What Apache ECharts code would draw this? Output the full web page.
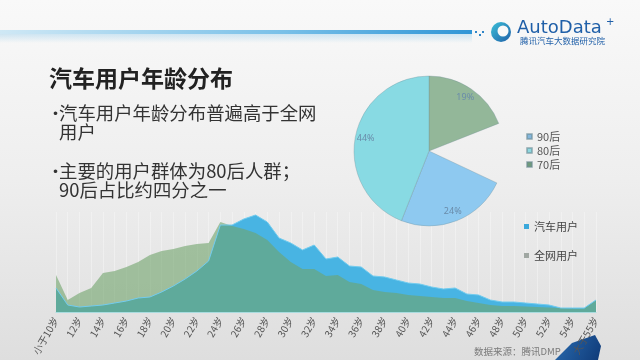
<!DOCTYPE html>
<html><head><meta charset="utf-8">
<script src="https://cdn.jsdelivr.net/npm/echarts@6/dist/echarts.min.js"></script>
<style>html,body{margin:0;padding:0;}#c{width:640px;height:360px;}</style>
</head><body><div id="c"></div>
<script>
const ageCategories = ['小于10岁','11岁','12岁','13岁','14岁','15岁','16岁','17岁','18岁','19岁','20岁','21岁','22岁','23岁','24岁','25岁','26岁','27岁','28岁','29岁','30岁','31岁','32岁','33岁','34岁','35岁','36岁','37岁','38岁','39岁','40岁','41岁','42岁','43岁','44岁','45岁','46岁','47岁','48岁','49岁','50岁','51岁','52岁','53岁','54岁','55岁','大于55岁'];
const carUsers = [24,7,5,6,7,9,11,14,15,20,26,33,41,51,87,87,93,97,90,74,69,62,67,53,55,46,45,36,35,32,29,28,25,23,24,18,17,12,10,10,9,8,7,4,4,4,12];
const allUsers = [37,12,19,24,39,41,45,50,57,61,63,66,68,69,90,86,83,79,72,60,50,43,43,36,37,30,28,22,20,19,17,16,15,14,14,11,9,7,6,6,5.5,5,4.5,4,3.5,3.5,12];
const pieNames = ['70后','其他','90后','80后'];
const pieValues = [19,13,24,44];
const pieLegendNames = ['90后','80后','70后'];
const seriesNames = ['汽车用户','全网用户'];

const pieColors = {'70后':'#93b799','其他':'rgba(0,0,0,0)','90后':'#8ec9f0','80后':'#88dae3'};
const pieLegendColors = {'90后':'#84b6dc','80后':'#8fd8e0','70后':'#6f9a7a'};
const cjk = '"Noto Sans CJK SC", "Noto Sans", sans-serif';

const chart = echarts.init(document.getElementById('c'));
const option = {
  backgroundColor: {type:'linear', x:0, y:0, x2:0, y2:1, colorStops:[{offset:0,color:'#f9f9f9'},{offset:0.5,color:'#eeeeee'},{offset:1,color:'#dedede'}]},
  textStyle: {fontFamily: cjk},
  animation: false,
  grid: {left:56, right:44, top:212, bottom:48},
  xAxis: {
    type:'category', data: ageCategories, boundaryGap:false, z:3,
    axisLine:{lineStyle:{color:'#a9dcdf', width:1}},
    axisTick:{show:false},
    axisLabel:{interval:1, rotate:60, fontSize:10, color:'#555', margin:6},
    splitLine:{show:true, interval:0, lineStyle:{color:'rgba(255,255,255,0.33)', width:1}}
  },
  yAxis: {type:'value', min:0, max:100, show:false},
  legend: [
    {orient:'vertical', left:521, top:126, itemWidth:5, itemHeight:5, itemGap:3, icon:'rect', selectedMode:false,
     textStyle:{fontSize:11, color:'#555', fontFamily:cjk},
     data: pieLegendNames.map(n => ({name:n, itemStyle:{color:pieLegendColors[n]}}))},
    {orient:'vertical', left:519, top:216, itemWidth:5, itemHeight:5, itemGap:18, icon:'rect', selectedMode:false,
     textStyle:{fontSize:11, color:'#444', fontFamily:cjk},
     data: [{name:seriesNames[0], itemStyle:{color:'#3aa8db'}},{name:seriesNames[1], itemStyle:{color:'#a0a7a2'}}]}
  ],
  series: [
    {name:seriesNames[0], type:'line', data:carUsers, symbol:'none', silent:true,
     lineStyle:{width:1, color:'#72ccef'}, areaStyle:{color:'#48b4e3', opacity:1}},
    {name:seriesNames[1], type:'line', data:allUsers, symbol:'none', silent:true,
     lineStyle:{width:0}, areaStyle:{color:'#6fa46a', opacity:0.6}},
    {name:'年龄', type:'pie', center:[429,151], radius:75, startAngle:90, clockwise:true, z:5, silent:true,
     label:{show:false}, labelLine:{show:false},
     data: pieNames.map((n,i) => ({name:n, value:pieValues[i],
       itemStyle:{color:pieColors[n], borderColor: n==='其他' ? 'rgba(0,0,0,0)' : 'rgba(110,140,150,0.55)', borderWidth:0.6}}))},
    {name:'年龄标签', type:'pie', center:[429,151], radius:[48,75], startAngle:90, clockwise:true, z:6, silent:true,
     labelLine:{show:false},
     label:{show:true, position:'inside', formatter:'{c}%', fontSize:9, color:'#6a8caa', fontFamily:'"Noto Sans", sans-serif'},
     data: pieNames.map((n,i) => ({name:n, value:pieValues[i], itemStyle:{color:'rgba(0,0,0,0)'},
       label:{show: n!=='其他'}}))}
  ],
  graphic: [
    {type:'rect', shape:{x:0, y:34, width:472, height:9}, style:{fill:{type:'linear', x:0,y:0,x2:0,y2:1, colorStops:[{offset:0,color:'rgba(130,195,232,0.35)'},{offset:1,color:'rgba(130,195,232,0)'}]}}},
    {type:'rect', shape:{x:0, y:30, width:472, height:4}, style:{fill:{type:'linear', x:0,y:0,x2:1,y2:0, colorStops:[{offset:0,color:'#cfe8f5'},{offset:0.6,color:'#79c0e8'},{offset:1,color:'#2f95d6'}]}}},
    {type:'rect', shape:{x:475, y:31, width:2, height:2}, style:{fill:'#2f85c8'}},
    {type:'rect', shape:{x:479, y:34, width:2, height:2}, style:{fill:'#2f85c8'}},
    {type:'rect', shape:{x:482, y:31, width:2, height:2}, style:{fill:'#2f85c8'}},
    {type:'circle', shape:{cx:501, cy:32, r:10}, style:{fill:{type:'linear',x:0,y:0,x2:1,y2:1,colorStops:[{offset:0,color:'#3cc0d8'},{offset:1,color:'#1f5fa8'}]}}},
    {type:'circle', shape:{cx:503, cy:31, r:5.5}, style:{fill:'#f8f8f8'}},
    {type:'text', left:517, top:19, style:{text:'AutoData', fontSize:18, fill:'#1f5fa8', fontFamily:'"DejaVu Sans", sans-serif', fontWeight:'normal'}},
    {type:'text', left:606, top:17, style:{text:'+', fontSize:10, fill:'#1f5fa8', fontFamily:'"DejaVu Sans", sans-serif'}},
    {type:'text', left:520, top:37, style:{text:'腾讯汽车大数据研究院', fontSize:8.5, fill:'#1f5fa8', fontFamily:cjk}},
    {type:'text', left:49, top:67, style:{text:'汽车用户年龄分布', fontSize:23, fontWeight:'bold', fill:'#222', fontFamily:cjk, verticalAlign:'middle'}},
    {type:'text', left:47, top:105, style:{text:'•', fontSize:17, fill:'#333', fontFamily:cjk, verticalAlign:'middle'}},
    {type:'text', left:59, top:104, style:{text:'汽车用户年龄分布普遍高于全网', fontSize:18.4, fill:'#333', fontFamily:cjk, verticalAlign:'middle'}},
    {type:'text', left:59, top:123, style:{text:'用户', fontSize:18.4, fill:'#333', fontFamily:cjk, verticalAlign:'middle'}},
    {type:'text', left:47, top:163, style:{text:'•', fontSize:17, fill:'#333', fontFamily:cjk, verticalAlign:'middle'}},
    {type:'text', left:59, top:162, style:{text:'主要的用户群体为80后人群；', fontSize:18.4, fill:'#333', fontFamily:cjk, verticalAlign:'middle'}},
    {type:'text', left:59, top:181, style:{text:'90后占比约四分之一', fontSize:18.4, fill:'#333', fontFamily:cjk, verticalAlign:'middle'}},
    {type:'text', left:474, top:347, style:{text:'数据来源：腾讯DMP', fontSize:9.5, fill:'#7a7a7a', fontFamily:cjk}},
    {type:'polygon', shape:{points:[[555,360],[572,343],[595,335],[601,346],[598,360]]}, style:{fill:{type:'linear',x:0,y:0,x2:1,y2:1,colorStops:[{offset:0,color:'#2a6cb0'},{offset:1,color:'#0f3a78'}]}}}
  ]
};
chart.setOption(option);
</script></body></html>
